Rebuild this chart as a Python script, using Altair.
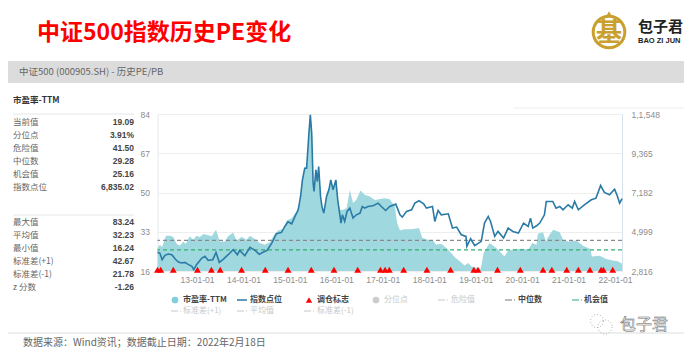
import altair as alt
import pandas as pd

CJK = "Noto Sans CJK SC"
LAT = "Liberation Sans"

pe_year = [2012.15,2012.20,2012.25,2012.33,2012.42,2012.49,2012.56,2012.63,2012.71,2012.76,2012.84,2012.92,2012.99,
 2013.06,2013.14,2013.22,2013.32,2013.41,2013.49,2013.60,2013.67,2013.78,2013.85,2013.96,
 2014.07,2014.14,2014.25,2014.35,2014.46,2014.57,2014.66,2014.75,2014.86,2014.93,
 2015.04,2015.14,2015.22,2015.27,2015.32,2015.36,2015.41,2015.44,2015.47,2015.50,2015.52,2015.56,2015.59,2015.62,2015.66,2015.69,2015.73,2015.79,2015.84,2015.88,2015.93,2015.99,
 2016.03,2016.08,2016.15,2016.22,2016.29,2016.36,2016.43,2016.52,2016.61,2016.72,2016.83,2016.94,
 2017.04,2017.15,2017.26,2017.31,2017.37,2017.47,2017.62,2017.78,2017.85,2017.97,
 2018.08,2018.15,2018.26,2018.41,2018.55,2018.66,2018.76,2018.84,2018.91,
 2019.05,2019.11,2019.17,2019.30,2019.45,2019.62,2019.70,2019.87,
 2020.02,2020.13,2020.22,2020.31,2020.34,2020.45,2020.51,2020.59,2020.67,2020.81,2020.88,2020.99,
 2021.17,2021.31,2021.47,2021.50,2021.67,2021.81,2021.95,2022.06,2022.15]
pe_value = [25.9,27.4,26.4,31.3,31.3,30.7,27.8,26.9,28.8,27.7,31.0,29.5,31.3,
 30.7,32.0,31.6,31.0,33.9,28.8,28.8,31.0,32.7,29.2,30.7,
 29.5,31.3,29.8,28.1,27.4,28.4,31.7,33.6,34.1,37.9,
 38.9,41.8,46.1,56.2,61.2,60.5,75.6,83.9,75.6,53.3,51.1,60.5,56.2,61.5,46.8,44.7,41.8,49.7,51.9,55.7,51.9,55.5,
 46.8,42.5,42.5,43.2,51.1,45.4,46.8,50.9,49.0,48.3,46.8,47.2,
 47.5,47.1,43.9,36.7,33.6,34.1,34.1,34.6,30.3,29.5,
 29.2,27.4,27.8,25.2,22.0,20.2,18.4,19.5,18.0,
 17.3,16.9,23.8,28.1,25.9,22.3,24.9,25.5,
 25.6,25.2,28.1,27.4,32.1,32.8,28.8,31.7,33.9,32.8,29.5,28.8,
 29.2,26.9,25.5,22.3,22.6,21.2,20.5,20.2,19.1]

idx_year = [2012.15,2012.20,2012.25,2012.31,2012.38,2012.46,2012.53,2012.60,2012.67,2012.74,2012.81,2012.89,2012.93,2012.99,
 2013.10,2013.17,2013.24,2013.34,2013.41,2013.48,2013.57,2013.67,2013.78,2013.87,2013.92,
 2014.03,2014.14,2014.25,2014.34,2014.43,2014.51,2014.61,2014.71,2014.82,2014.89,2014.96,
 2015.04,2015.11,2015.18,2015.23,2015.27,2015.32,2015.36,2015.41,2015.44,2015.47,2015.50,2015.52,2015.56,2015.59,2015.62,2015.66,2015.69,2015.73,2015.79,2015.84,2015.88,2015.93,2015.99,
 2016.03,2016.08,2016.10,2016.13,2016.18,2016.23,2016.29,2016.36,2016.43,2016.51,2016.56,2016.61,2016.68,2016.79,2016.90,2016.97,
 2017.06,2017.15,2017.28,2017.37,2017.42,2017.51,2017.62,2017.69,2017.78,2017.88,2017.94,
 2018.07,2018.12,2018.19,2018.26,2018.41,2018.50,2018.59,2018.69,2018.79,2018.81,2018.89,2018.98,
 2019.12,2019.19,2019.27,2019.32,2019.41,2019.48,2019.60,2019.70,2019.80,2019.92,
 2020.03,2020.13,2020.18,2020.23,2020.31,2020.38,2020.48,2020.52,2020.59,2020.66,2020.73,2020.81,2020.88,2020.99,
 2021.08,2021.13,2021.21,2021.34,2021.49,2021.59,2021.69,2021.77,2021.88,2021.99,
 2022.04,2022.10,2022.15]
idx_value = [3852,3815,3445,3686,3760,3722,3482,3316,3260,3297,3186,3075,2890,3168,
 3519,3630,3408,3445,3852,3297,3482,3722,4000,3722,3963,
 3667,4130,3963,3741,3870,3963,4370,4888,4962,5295,5554,
 5443,5850,6220,6960,7885,8533,8533,10475,11500,10475,7700,7238,8440,7792,8625,6960,6405,6035,6960,7330,7885,7330,7885,
 6775,5850,5480,5942,5572,6128,6313,5758,5942,6035,6405,6313,6405,6442,6590,6405,
 6183,6405,6534,5942,5813,6128,6220,6590,6720,6553,6313,
 6405,5572,6183,5942,5998,5203,5258,4832,4740,4185,4610,4222,
 4463,5480,5850,5572,4740,5018,4648,5203,5018,4925,
 5480,5295,5758,5203,5332,5480,5942,6683,6683,6683,6313,6405,6220,6498,
 6313,6683,6220,6498,6775,6868,7570,7182,7052,7367,
 7052,6590,6835]

rebalance_year = [2012.15,2012.22,2012.49,2013.01,2013.31,2013.50,2013.96,2014.47,2014.96,2015.46,2015.95,2016.46,
 2016.95,2017.05,2017.14,2017.45,2017.95,2018.46,2018.96,2019.05,2019.47,2019.96,2020.45,2020.64,2020.96,2021.21,2021.46,2021.70,2021.75,2021.95]

median_pe = 29.28
chance_pe = 25.16
pe_ticks = [16, 33, 50, 67, 84]
idx_ticks = [2816, 4999, 7182, 9365, 11548]
year_ticks = [2013,2014,2015,2016,2017,2018,2019,2020,2021,2022]

stats_a = [("当前值","19.09"),("分位点","3.91%"),("危险值","41.50"),("中位数","29.28"),("机会值","25.16"),("指数点位","6,835.02")]
stats_b = [("最大值","83.24"),("平均值","32.23"),("最小值","16.24"),("标准差(+1)","42.67"),("标准差(-1)","21.78"),("z 分数","-1.26")]

# page-pixel geometry of the plot area
PL, PT, PW, PH = 157.5, 114, 464.5, 157

xs = alt.Scale(domain=[2012.15, 2022.15], nice=False, zero=False)
ys = alt.Scale(domain=[16, 84], nice=False, zero=False)
ys2 = alt.Scale(domain=[2816, 11548], nice=False, zero=False)
blank = pd.DataFrame({"a": [0]})

AX = dict(labelColor="#8c8c8c", labelFont=LAT, labelFontSize=8.5, title=None, ticks=False)

def txt(s, x, y, size=8.5, color="#555555", weight="normal", align="left", font=CJK, **kw):
    return alt.Chart(blank).mark_text(fontSize=size, color=color, fontWeight=weight, align=align,
                                      baseline="middle", font=font, **kw).encode(
        x=alt.value(x - PL), y=alt.value(y - PT), text=alt.value(s))

def hline(x1, x2, y, color, width=1, dash=None):
    kw = dict(strokeDash=dash) if dash else {}
    return alt.Chart(blank).mark_rule(color=color, strokeWidth=width, **kw).encode(
        x=alt.value(x1 - PL), x2=alt.value(x2 - PL), y=alt.value(y - PT))

def sym(x, y, shape, size, color, **kw):
    return alt.Chart(blank).mark_point(shape=shape, size=size, filled=True, color=color, opacity=1, **kw).encode(
        x=alt.value(x - PL), y=alt.value(y - PT))

layers = []

# page furniture behind the chart
layers.append(alt.Chart(blank).mark_rect(color="#dcdcdc").encode(
    x=alt.value(8 - PL), x2=alt.value(684 - PL), y=alt.value(61 - PT), y2=alt.value(83 - PT)))
layers.append(txt("中证500指数历史PE变化", 37, 33, size=23, color="#ff0000", weight="bold"))
layers.append(txt("中证500 (000905.SH) - 历史PE/PB", 19, 72, size=9.5, color="#666666"))
layers.append(hline(513, 684, 108, "#eeeeee"))

# logo
layers.append(alt.Chart(blank).mark_point(shape="circle", size=1000, filled=False, color="#c9a02e", strokeWidth=3, opacity=1).encode(
    x=alt.value(609 - PL), y=alt.value(32 - PT)))
layers.append(txt("基", 609, 33, size=26, color="#c9a02e", weight="bold", align="center"))
layers.append(sym(609, 14, "triangle-up", 40, "#c9a02e"))
layers.append(txt("包子君", 638, 27, size=15, color="#222222", weight="bold"))
layers.append(txt("BAO ZI JUN", 638, 41, size=7.5, color="#222222", weight="bold", font=LAT))

# stats table
layers.append(txt("市盈率-TTM", 13, 100, size=8.5, color="#333333", weight="bold"))
layers.append(hline(13, 134, 114, "#e6e6e6"))
layers.append(hline(13, 134, 215, "#e6e6e6"))
for rows, top in ((stats_a, 122), (stats_b, 222)):
    for i, (k, v) in enumerate(rows):
        yy = top + i * 13
        layers.append(txt(k, 13, yy, size=8.5, color="#666666"))
        layers.append(txt(v, 134, yy, size=8.5, color="#444444", weight="bold", align="right", font=LAT))

# chart
dpe = pd.DataFrame({"year": pe_year, "pe": pe_value})
didx = pd.DataFrame({"year": idx_year, "idx": idx_value})
dreb = pd.DataFrame({"year": rebalance_year, "pe": [16.5] * len(rebalance_year)})

layers.append(alt.Chart(dpe).mark_area(color="#9fd8df", opacity=1, line=False).encode(
    x=alt.X("year:Q", scale=xs, axis=alt.Axis(values=year_ticks, grid=False, domainColor="#eeeeee",
                                              labelExpr="substring(toString(datum.value),2)+'-01-01'",
                                              labelPadding=4, **AX)),
    y=alt.Y("pe:Q", scale=ys, axis=alt.Axis(values=pe_ticks, grid=True, gridColor="#eeeeee", domainColor="#e4e8ee",
                                            labelPadding=8, **AX)),
    y2=alt.Y2(datum=16)))
layers.append(alt.Chart(blank).mark_rule(color="#8a8a8a", strokeWidth=1.4, strokeDash=[4, 3]).encode(
    y=alt.Y(datum=median_pe, scale=ys, axis=None)))
layers.append(alt.Chart(blank).mark_rule(color="#35b070", strokeWidth=1.4, strokeDash=[4, 3]).encode(
    y=alt.Y(datum=chance_pe, scale=ys, axis=None)))
layers.append(alt.Chart(didx).mark_line(color="#2a7aa6", strokeWidth=1.6).encode(
    x=alt.X("year:Q", scale=xs),
    y=alt.Y("idx:Q", scale=ys2, axis=alt.Axis(orient="right", values=idx_ticks, grid=False,
                                              labelExpr="datum.value==11548 ? '1,1,548' : format(datum.value, ',')",
                                              domainColor="#d6e4ef", labelPadding=9, **AX))))
layers.append(alt.Chart(dreb).mark_point(shape="triangle-up", size=48, filled=True, color="#ff0000", opacity=1).encode(
    x=alt.X("year:Q", scale=xs),
    y=alt.Y("pe:Q", scale=ys, axis=None)))

# legend
LEG_ON = "#444444"
LEG_OFF = "#c8c8c8"
R1, R2 = 300, 311
layers.append(sym(175, R1, "circle", 45, "#7fd0da"))
layers.append(txt("市盈率-TTM", 183, R1, size=8, color=LEG_ON, weight="bold"))
layers.append(hline(237, 247, R1, "#2a7aa6", 1.5))
layers.append(txt("指数点位", 250, R1, size=8, color=LEG_ON, weight="bold"))
layers.append(sym(309, R1, "triangle-up", 40, "#ff0000"))
layers.append(txt("调仓标志", 317, R1, size=8, color=LEG_ON, weight="bold"))
layers.append(sym(376, R1, "circle", 45, "#cccccc"))
layers.append(txt("分位点", 384, R1, size=8, color=LEG_OFF))
layers.append(hline(438, 448, R1, LEG_OFF, 1.2, [7, 2, 1, 2]))
layers.append(txt("危险值", 451, R1, size=8, color=LEG_OFF))
layers.append(hline(505, 515, R1, "#777777", 1.2, [7, 2, 1, 2]))
layers.append(txt("中位数", 518, R1, size=8, color=LEG_ON, weight="bold"))
layers.append(hline(572, 582, R1, "#35b070", 1.2, [7, 2, 1, 2]))
layers.append(txt("机会值", 584, R1, size=8, color=LEG_ON, weight="bold"))
layers.append(hline(171, 181, R2, LEG_OFF, 1.2, [7, 2, 1, 2]))
layers.append(txt("标准差(+1)", 183, R2, size=8, color=LEG_OFF))
layers.append(hline(237, 247, R2, LEG_OFF, 1.2, [7, 2, 1, 2]))
layers.append(txt("平均值", 250, R2, size=8, color=LEG_OFF))
layers.append(hline(304, 314, R2, LEG_OFF, 1.2, [7, 2, 1, 2]))
layers.append(txt("标准差(-1)", 317, R2, size=8, color=LEG_OFF))

# footer
layers.append(hline(8, 684, 333, "#dddddd"))
layers.append(txt("数据来源：Wind资讯；数据截止日期：2022年2月18日", 23, 342.5, size=10, color="#666666"))

# watermark
layers.append(alt.Chart(blank).mark_point(shape="circle", size=170, filled=False, color="#999999", strokeWidth=0.8, strokeDash=[1, 2], opacity=1).encode(
    x=alt.value(597 - PL), y=alt.value(321 - PT)))
layers.append(alt.Chart(blank).mark_point(shape="circle", size=200, filled=False, color="#999999", strokeWidth=0.8, strokeDash=[1, 2], opacity=1).encode(
    x=alt.value(605 - PL), y=alt.value(327 - PT)))
layers.append(txt("包子君", 620, 325, size=16, color="#ffffff", stroke="#666666", strokeWidth=0.5))

chart = alt.layer(*layers).resolve_scale(y="independent").properties(
    width=PW, height=PH,
    padding={"left": PL - 8, "top": PT - 8, "right": 684 - PL - PW, "bottom": 348 - PT - PH},
    autosize=alt.AutoSizeParams(type="none"),
    background="white",
).configure_view(stroke=None)

chart.save("out.html", embed_options={"renderer": "svg", "actions": False})
